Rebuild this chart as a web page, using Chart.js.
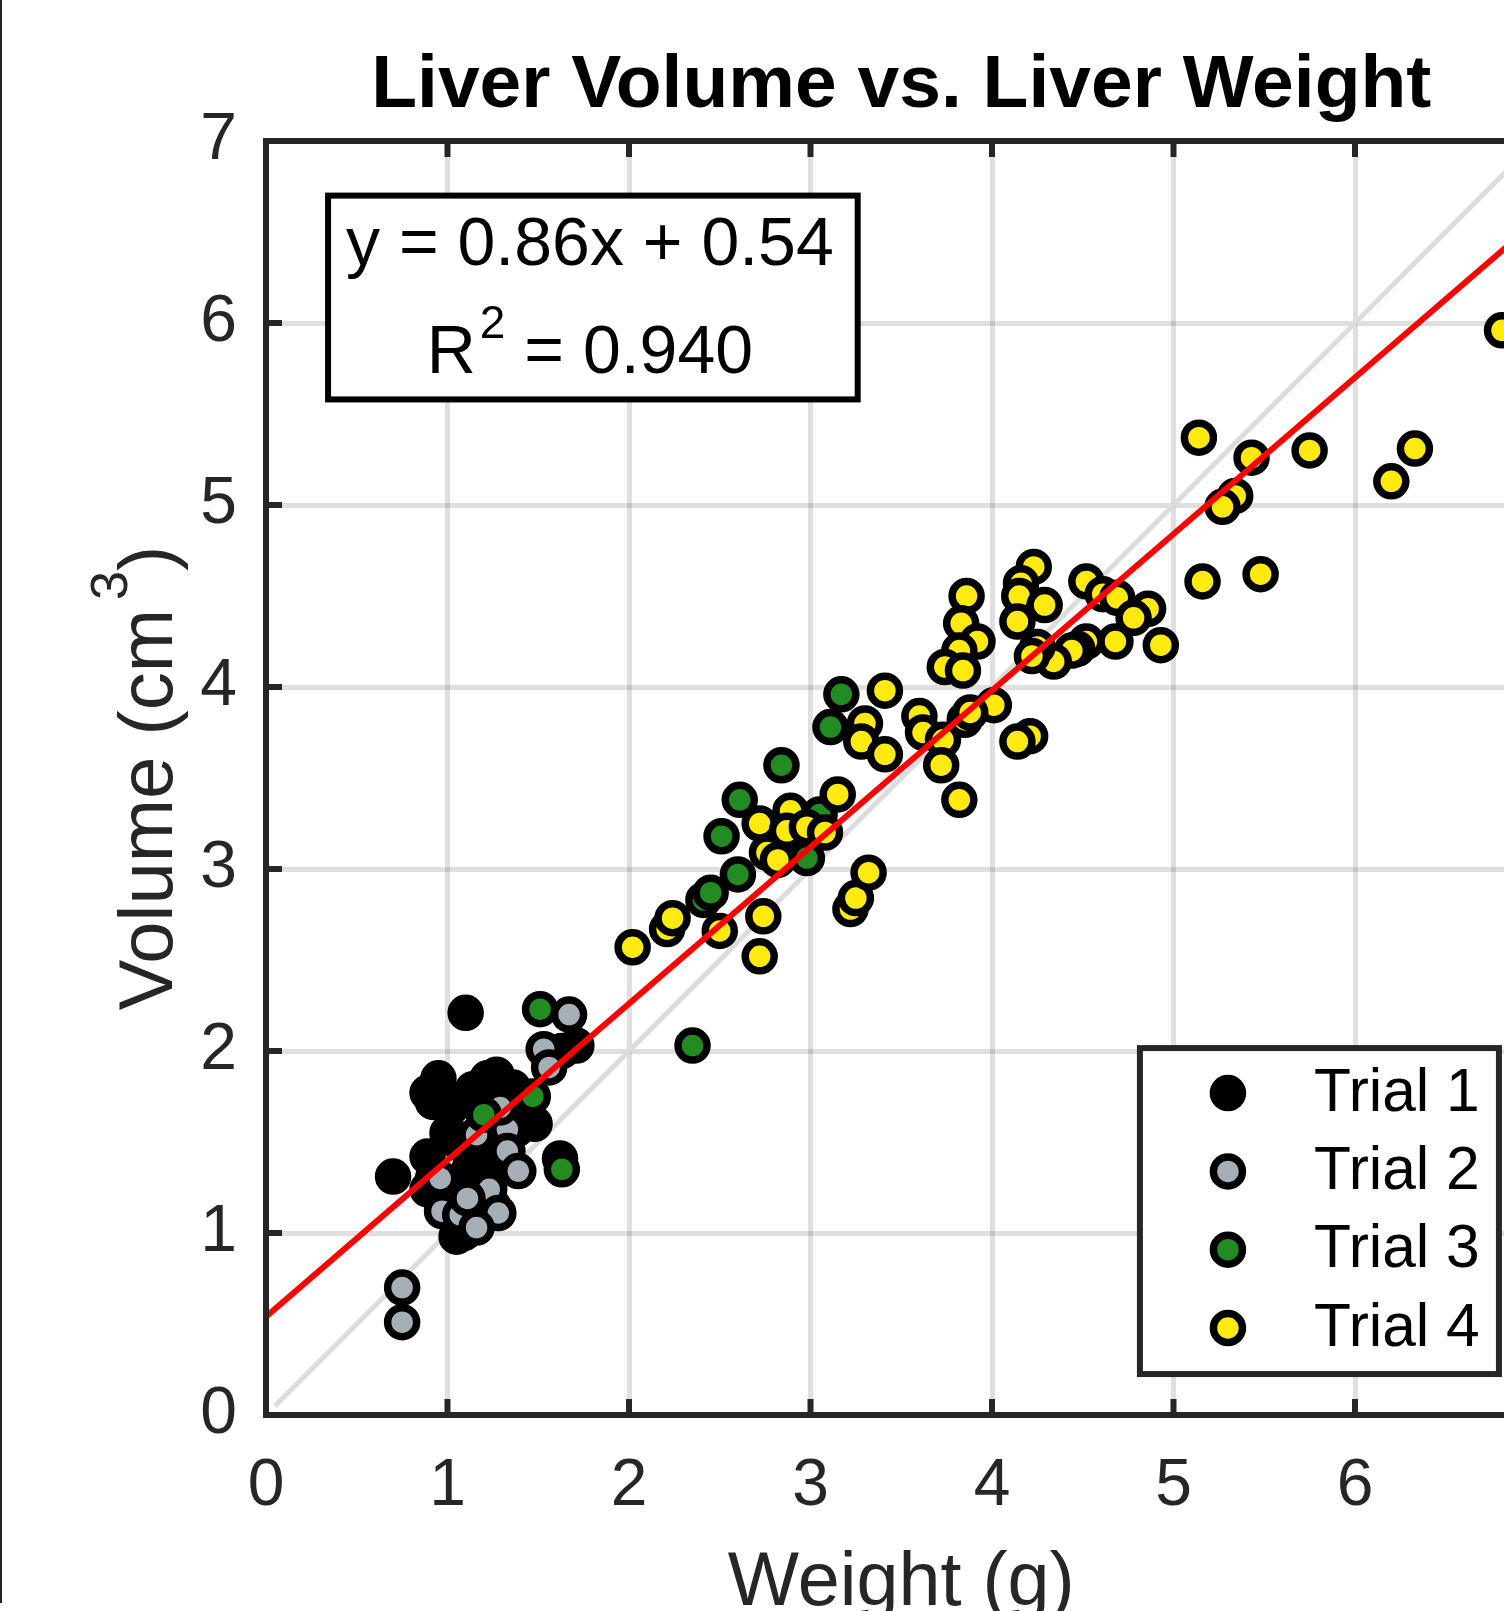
<!DOCTYPE html>
<html><head><meta charset="utf-8">
<style>
html,body{margin:0;padding:0;overflow:hidden;background:#fff;width:1504px;height:1611px;}
#wrap{position:relative;width:1504px;height:1611px;overflow:hidden;}
#c{position:absolute;left:0;top:0;}
#edge{position:absolute;left:0;top:0;width:2px;height:1603px;background:#222;}
</style>
<script src="https://cdn.jsdelivr.net/npm/chart.js@4.4.1/dist/chart.umd.min.js"></script>
</head><body><div id="wrap"><canvas id="c" width="1597" height="1611"></canvas><div id="edge"></div></div>
<script>
// ---------- data ----------
const titleText = 'Liver Volume vs. Liver Weight';
const xAxisTitle = 'Weight (g)';
const yAxisTitleMain = 'Volume (cm';
const yAxisTitleSup = '3';
const yAxisTitleEnd = ')';
const seriesNames = ['Trial 1', 'Trial 2', 'Trial 3', 'Trial 4'];
const xTicks = [0, 1, 2, 3, 4, 5, 6, 7];
const yTicks = [0, 1, 2, 3, 4, 5, 6, 7];
const eqLine1 = 'y = 0.86x + 0.54';
const eqLine2Base = 'R';
const eqLine2Sup = '2';
const eqLine2Rest = ' = 0.940';

const trial1X = [0.70,1.10,0.92,0.95,0.89,1.01,1.22,1.36,1.14,1.27,1.42,1.48,1.00,0.89,1.07,1.12,1.23,1.05,1.71,1.62,1.14,0.89,1.38,1.03,1.02,1.46,1.31,1.20,1.09,1.25,1.18,1.33,1.63,0.92];
const trial1Y = [1.31,2.21,1.72,1.85,1.77,1.73,1.85,1.80,1.79,1.87,1.68,1.60,1.55,1.42,1.49,1.35,1.42,0.98,2.03,1.41,1.05,1.24,1.57,1.53,1.69,1.62,1.37,1.37,1.00,1.15,1.25,1.70,2.00,1.30];

const trial2X = [1.67,1.53,1.56,1.33,1.33,1.39,1.23,1.16,0.96,0.97,1.07,1.28,1.16,1.11,0.75,0.75,1.29];
const trial2Y = [2.20,2.01,1.91,1.57,1.45,1.34,1.24,1.54,1.30,1.12,1.10,1.11,1.03,1.19,0.70,0.51,1.69];

const trial3X = [1.51,1.47,1.20,1.63,2.35,2.41,2.45,2.51,2.60,2.61,2.84,2.98,3.05,3.11,3.17];
const trial3Y = [2.23,1.75,1.65,1.35,2.03,2.83,2.87,3.18,2.97,3.38,3.57,3.06,3.30,3.78,3.96];

const trial4X = [6.81,5.14,5.43,5.75,6.33,6.20,5.34,5.27,5.16,5.48,
  4.52,4.61,4.69,4.86,4.78,4.93,4.68,4.52,4.47,4.44,4.34,4.25,4.22,
  4.23,4.16,4.15,4.29,4.14,
  3.86,3.83,3.92,3.82,3.74,3.84,
  3.41,4.01,3.85,3.88,3.60,3.62,3.73,3.72,3.82,4.21,4.14,
  3.30,3.28,3.41,
  2.02,2.21,2.24,2.50,2.74,2.72,2.72,2.89,2.87,2.98,3.08,2.76,2.82,3.15,3.22,3.25,3.32];
const trial4Y = [5.96,5.37,5.26,5.30,5.31,5.13,5.05,4.99,4.58,4.62,
  4.58,4.51,4.49,4.43,4.38,4.23,4.25,4.25,4.21,4.20,4.14,4.22,4.17,
  4.66,4.57,4.50,4.45,4.36,
  4.50,4.35,4.25,4.20,4.11,4.09,
  3.98,3.90,3.82,3.86,3.84,3.75,3.71,3.57,3.38,3.73,3.70,
  3.80,3.70,3.63,
  2.57,2.67,2.73,2.66,2.74,2.52,3.25,3.32,3.21,3.23,3.20,3.09,3.05,3.41,2.78,2.84,2.98];

const fitX = [0, 7];
const fitY = [0.54, 6.56];
const idX = [0.05, 7];
const idY = [0.05, 7];

// ---------- styling ----------
const FONT = "'Liberation Sans', Arial, Helvetica, sans-serif";
const AX = '#262626';
const fills = ['#000000', '#a6afb5', '#228b22', '#ffea0f'];
const GRID = 'rgba(38,38,38,0.15)';
const PR = 14.5, PB = 7.5;

const pts = (xs, ys) => xs.map((x, i) => ({x: x, y: ys[i]}));

const decor = {
  id: 'decor',
  afterDraw(chart) {
    const ctx = chart.ctx;
    const a = chart.chartArea;
    const xs = chart.scales.x, ys = chart.scales.y;
    ctx.save();
    // box frame
    ctx.strokeStyle = AX; ctx.lineWidth = 6;
    ctx.strokeRect(a.left, a.top, a.right - a.left, a.bottom - a.top);
    // inward ticks
    ctx.lineWidth = 6; ctx.lineCap = 'butt';
    ctx.beginPath();
    xTicks.forEach(v => {
      const px = xs.getPixelForValue(v);
      ctx.moveTo(px, a.bottom); ctx.lineTo(px, a.bottom - 16);
      ctx.moveTo(px, a.top); ctx.lineTo(px, a.top + 16);
    });
    yTicks.forEach(v => {
      const py = ys.getPixelForValue(v);
      ctx.moveTo(a.left, py); ctx.lineTo(a.left + 16, py);
      ctx.moveTo(a.right, py); ctx.lineTo(a.right - 16, py);
    });
    ctx.stroke();

    // y axis title with superscript
    ctx.save();
    const cy = (a.top + a.bottom) / 2;
    ctx.translate(145, cy);
    ctx.rotate(-Math.PI / 2);
    ctx.fillStyle = AX;
    ctx.textBaseline = 'alphabetic';
    ctx.textAlign = 'left';
    const fMain = '76px ' + FONT, fSup = '52px ' + FONT;
    ctx.font = fMain; const w1 = ctx.measureText(yAxisTitleMain).width; const w3 = ctx.measureText(yAxisTitleEnd).width;
    ctx.font = fSup; const w2 = ctx.measureText(yAxisTitleSup).width;
    const gap = 9;
    const tot = w1 + gap + w2 + w3;
    let sx = -tot / 2;
    ctx.font = fMain; ctx.fillText(yAxisTitleMain, sx, 27); sx += w1 + gap;
    ctx.font = fSup; ctx.fillText(yAxisTitleSup, sx, -18); sx += w2;
    ctx.font = fMain; ctx.fillText(yAxisTitleEnd, sx, 27);
    ctx.restore();

    // equation box (positioned in data space)
    const eb = {x0: 0.342, x1: 3.26, y0: 6.70, y1: 5.58};
    const bl = xs.getPixelForValue(eb.x0), br = xs.getPixelForValue(eb.x1);
    const bt = ys.getPixelForValue(eb.y0), bb = ys.getPixelForValue(eb.y1);
    ctx.fillStyle = '#fff';
    ctx.fillRect(bl, bt, br - bl, bb - bt);
    ctx.strokeStyle = '#000'; ctx.lineWidth = 6;
    ctx.strokeRect(bl, bt, br - bl, bb - bt);
    const bc = (bl + br) / 2 - 3;
    ctx.fillStyle = '#000';
    ctx.textBaseline = 'alphabetic';
    ctx.textAlign = 'center';
    ctx.font = '68px ' + FONT;
    ctx.fillText(eqLine1, bc, bt + 69);
    ctx.textAlign = 'left';
    const fe = '68px ' + FONT, fes = '46px ' + FONT;
    ctx.font = fe; const r1 = ctx.measureText(eqLine2Base).width, r3 = ctx.measureText(eqLine2Rest).width;
    ctx.font = fes; const r2 = ctx.measureText(eqLine2Sup).width;
    const rg = 4;
    let ex = bc - (r1 + rg + r2 + r3) / 2;
    ctx.font = fe; ctx.fillText(eqLine2Base, ex, bt + 177); ex += r1 + rg;
    ctx.font = fes; ctx.fillText(eqLine2Sup, ex, bt + 142); ex += r2;
    ctx.font = fe; ctx.fillText(eqLine2Rest, ex, bt + 177);

    // legend box (positioned in data space)
    const lb = {x0: 4.815, x1: 6.793, y0: 2.016, y1: 0.225};
    const ll = xs.getPixelForValue(lb.x0), lr = xs.getPixelForValue(lb.x1);
    const lt = ys.getPixelForValue(lb.y0), lbm = ys.getPixelForValue(lb.y1);
    ctx.fillStyle = '#fff';
    ctx.fillRect(ll, lt, lr - ll, lbm - lt);
    ctx.strokeStyle = AX; ctx.lineWidth = 6;
    ctx.strokeRect(ll, lt, lr - ll, lbm - lt);
    const entries = chart.data.datasets.filter(d => seriesNames.includes(d.label))
      .sort((p, q) => seriesNames.indexOf(p.label) - seriesNames.indexOf(q.label));
    ctx.font = '60.5px ' + FONT;
    ctx.textBaseline = 'middle';
    ctx.textAlign = 'left';
    entries.forEach((d, i) => {
      const my = lt + 45 + i * 78.3;
      ctx.beginPath();
      ctx.arc(ll + 88, my, PR, 0, Math.PI * 2);
      ctx.fillStyle = d.pointBackgroundColor; ctx.fill();
      ctx.lineWidth = PB; ctx.strokeStyle = d.pointBorderColor; ctx.stroke();
      ctx.fillStyle = '#000';
      ctx.fillText(d.label, ll + 174, my + 1);
    });
    ctx.restore();
  }
};

const scatterSet = (i, xs, ys, order) => ({
  label: seriesNames[i], data: pts(xs, ys),
  pointBackgroundColor: fills[i], pointBorderColor: '#000',
  backgroundColor: fills[i], borderColor: '#000',
  pointBorderWidth: PB, pointHoverBorderWidth: PB,
  pointRadius: PR, pointHoverRadius: PR, showLine: false, order: order
});

new Chart(document.getElementById('c'), {
  type: 'scatter',
  data: {
    datasets: [
      {label: 'fit', data: pts(fitX, fitY), showLine: true, borderColor: '#ff0000', borderWidth: 6, pointRadius: 0, order: 0, fill: false},
      scatterSet(3, trial4X, trial4Y, 1),
      scatterSet(2, trial3X, trial3Y, 2),
      scatterSet(1, trial2X, trial2Y, 3),
      scatterSet(0, trial1X, trial1Y, 4),
      {label: 'identity', data: pts(idX, idY), showLine: true, borderColor: '#dcdcdc', borderWidth: 5, pointRadius: 0, order: 5, fill: false}
    ]
  },
  options: {
    responsive: false,
    animation: false,
    events: [],
    layout: {padding: {left: 0, right: 60.5, top: 0, bottom: 0}},
    plugins: {
      legend: {display: false},
      tooltip: {enabled: false},
      title: {
        display: true, text: titleText, fullSize: false, color: '#000',
        font: {family: FONT, size: 75, weight: 'bold'},
        padding: {top: 41, bottom: 10}
      }
    },
    scales: {
      x: {
        type: 'linear', min: 0, max: 7,
        afterBuildTicks: s => { s.ticks = xTicks.map(v => ({value: v})); },
        ticks: {font: {family: FONT, size: 66}, color: AX, padding: 32, maxRotation: 0, autoSkip: false},
        grid: {color: GRID, lineWidth: 5, drawTicks: false},
        border: {display: false},
        title: {display: true, text: xAxisTitle, color: AX, font: {family: FONT, size: 75.5, lineHeight: 0.7}, padding: 0},
        afterFit: s => { s.height = 196; }
      },
      y: {
        type: 'linear', min: 0, max: 7,
        afterBuildTicks: s => { s.ticks = yTicks.map(v => ({value: v})); },
        ticks: {font: {family: FONT, size: 66}, color: AX, padding: 29},
        grid: {color: GRID, lineWidth: 5, drawTicks: false},
        border: {display: false},
        afterFit: s => { s.width = 266; }
      }
    }
  },
  plugins: [decor]
});
</script>
</body></html>
